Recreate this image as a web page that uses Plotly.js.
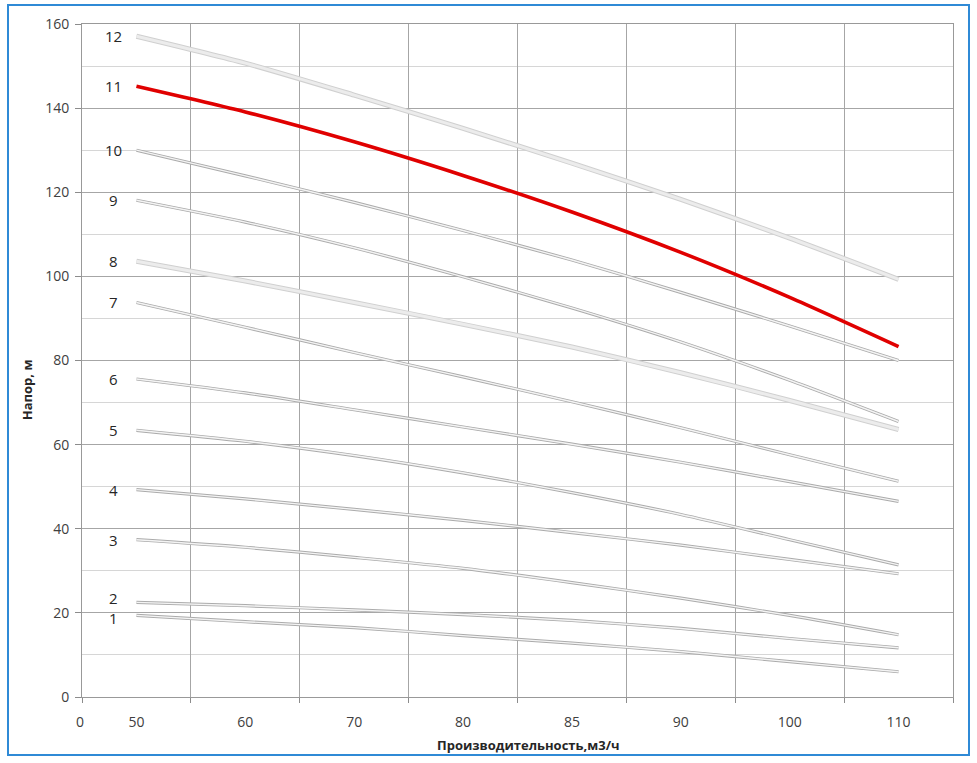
<!DOCTYPE html>
<html><head><meta charset="utf-8">
<script src="https://cdn.plot.ly/plotly-3.0.1.min.js"></script>
<style>
html,body{margin:0;padding:0;background:#fff;}
#wrap{position:relative;width:977px;height:763px;overflow:hidden;}
#chart{position:absolute;left:0;top:0;width:977px;height:763px;}
#frame{position:absolute;left:7px;top:4px;width:963px;height:752px;box-sizing:border-box;border:2px solid #2f8ad6;pointer-events:none;}
</style></head><body>
<div id="wrap"><div id="chart"></div><div id="frame"></div></div>
<script>
// Flow categories (m3/h)
const flow = ["50","60","70","80","85","90","100","110"];
// Head values (m) for curves 1..12
const h1  = [19.4, 17.9, 16.5, 14.6, 12.8, 10.8, 8.4, 6.0];
const h2  = [22.5, 21.7, 20.7, 19.6, 18.2, 16.3, 13.9, 11.7];
const h3  = [37.4, 35.6, 33.2, 30.6, 27.2, 23.5, 19.4, 14.8];
const h4  = [49.3, 47.1, 44.6, 42.0, 39.1, 36.1, 32.7, 29.3];
const h5  = [63.4, 60.8, 57.4, 53.3, 48.6, 43.4, 37.4, 31.4];
const h6  = [75.6, 72.3, 68.3, 64.2, 60.1, 55.8, 51.2, 46.5];
const h7  = [93.8, 87.9, 81.9, 76.1, 70.2, 64.0, 57.6, 51.3];
const h8  = [103.6, 98.9, 93.8, 88.6, 83.2, 77.1, 70.5, 63.6];
const h9  = [118.1, 112.9, 106.8, 99.9, 92.5, 84.4, 75.3, 65.5];
const h10 = [130.0, 123.9, 117.6, 110.9, 103.9, 96.2, 88.2, 80.0];
const h11 = [145.2, 139.1, 132.0, 124.0, 115.3, 105.7, 95.0, 83.3];
const h12 = [157.1, 150.7, 143.1, 135.2, 126.9, 118.3, 109.1, 99.3];
const curveNames = ["1","2","3","4","5","6","7","8","9","10","11","12"];
const yTickLabels = ["0","20","40","60","80","100","120","140","160"];
const xTitle = "Производительность,м3/ч";
const yTitle = "Напор, м";

const series = [h1,h2,h3,h4,h5,h6,h7,h8,h9,h10,h11,h12];
const highlight = "11";
const thick = ["8","12"];
const labelShift = {"1": -3, "2": 4};

const traces = [];
series.forEach((ys, i) => {
  const name = curveNames[i];
  if (name === highlight) {
    traces.push({x: flow, y: ys, type:'scatter', mode:'lines', line:{color:'#e00000', width:3.6, shape:'spline', smoothing:0.7}, hoverinfo:'skip', showlegend:false});
  } else if (thick.includes(name)) {
    traces.push({x: flow, y: ys, type:'scatter', mode:'lines', line:{color:'#d0d0d0', width:5, shape:'spline', smoothing:0.7}, hoverinfo:'skip', showlegend:false});
    traces.push({x: flow, y: ys, type:'scatter', mode:'lines', line:{color:'#ececec', width:3, shape:'spline', smoothing:0.7}, hoverinfo:'skip', showlegend:false});
  } else {
    traces.push({x: flow, y: ys, type:'scatter', mode:'lines', line:{color:'#ababab', width:3.2, shape:'spline', smoothing:0.7}, hoverinfo:'skip', showlegend:false});
    traces.push({x: flow, y: ys, type:'scatter', mode:'lines', line:{color:'#f4f4f4', width:1.4, shape:'spline', smoothing:0.7}, hoverinfo:'skip', showlegend:false});
  }
});

const font = 'Open Sans, Noto Sans, sans-serif';
const annotations = series.map((ys, i) => ({
  x: -0.21, y: ys[0], xref:'x', yref:'y', text: curveNames[i], showarrow:false,
  xanchor:'center', yanchor:'middle', yshift: labelShift[curveNames[i]] || 0,
  font:{family:font, size:15, color:'#262626'}
}));
annotations.push({x:0, y:-0.0371, xref:'paper', yref:'paper', text:'0', showarrow:false, xanchor:'center', yanchor:'middle', xshift:-2, font:{family:font, size:14, color:'#404040'}});
annotations.push({x:0.513, y:-0.0713, xref:'paper', yref:'paper', text:'<b>'+xTitle+'</b>', showarrow:false, xanchor:'center', yanchor:'middle', font:{family:font, size:13, color:'#262626'}});
annotations.push({x:-0.063, y:0.456, xref:'paper', yref:'paper', text:'<b>'+yTitle+'</b>', textangle:-90, showarrow:false, xanchor:'center', yanchor:'middle', font:{family:font, size:13, color:'#262626'}});

const shapes = flow.map(c => ({type:'line', xref:'x', yref:'paper', x0:c, x1:c, y0:0, y1:1, layer:'below', line:{color:'#d3d3d3', width:1}}));

const layout = {
  width:977, height:763, autosize:false,
  margin:{l:82, r:24, t:24, b:66},
  paper_bgcolor:'#fff', plot_bgcolor:'#fff',
  showlegend:false,
  xaxis:{type:'category', range:[-0.5,7.5], tickson:'boundaries', ticks:'outside', ticklen:5, tickcolor:'#8c8c8c',
    ticklabelstandoff:12,
    showgrid:true, gridcolor:'#a6a6a6', gridwidth:1, showline:true, linecolor:'#999', mirror:true, zeroline:false,
    tickfont:{family:font, size:14, color:'#404040'}, fixedrange:true},
  yaxis:{range:[0,160], tickvals:yTickLabels.map(Number), ticktext:yTickLabels, ticks:'outside', ticklen:6, tickcolor:'#8c8c8c',
    ticklabelstandoff:3,
    showgrid:true, gridcolor:'#a6a6a6', gridwidth:1,
    minor:{dtick:10, tick0:0, showgrid:true, gridcolor:'#d6d6d6', ticks:''},
    showline:true, linecolor:'#999', mirror:true, zeroline:false,
    tickfont:{family:font, size:14, color:'#404040'}, fixedrange:true},
  annotations: annotations,
  shapes: shapes
};
Plotly.newPlot('chart', traces, layout, {displayModeBar:false, staticPlot:true});
</script>
</body></html>
